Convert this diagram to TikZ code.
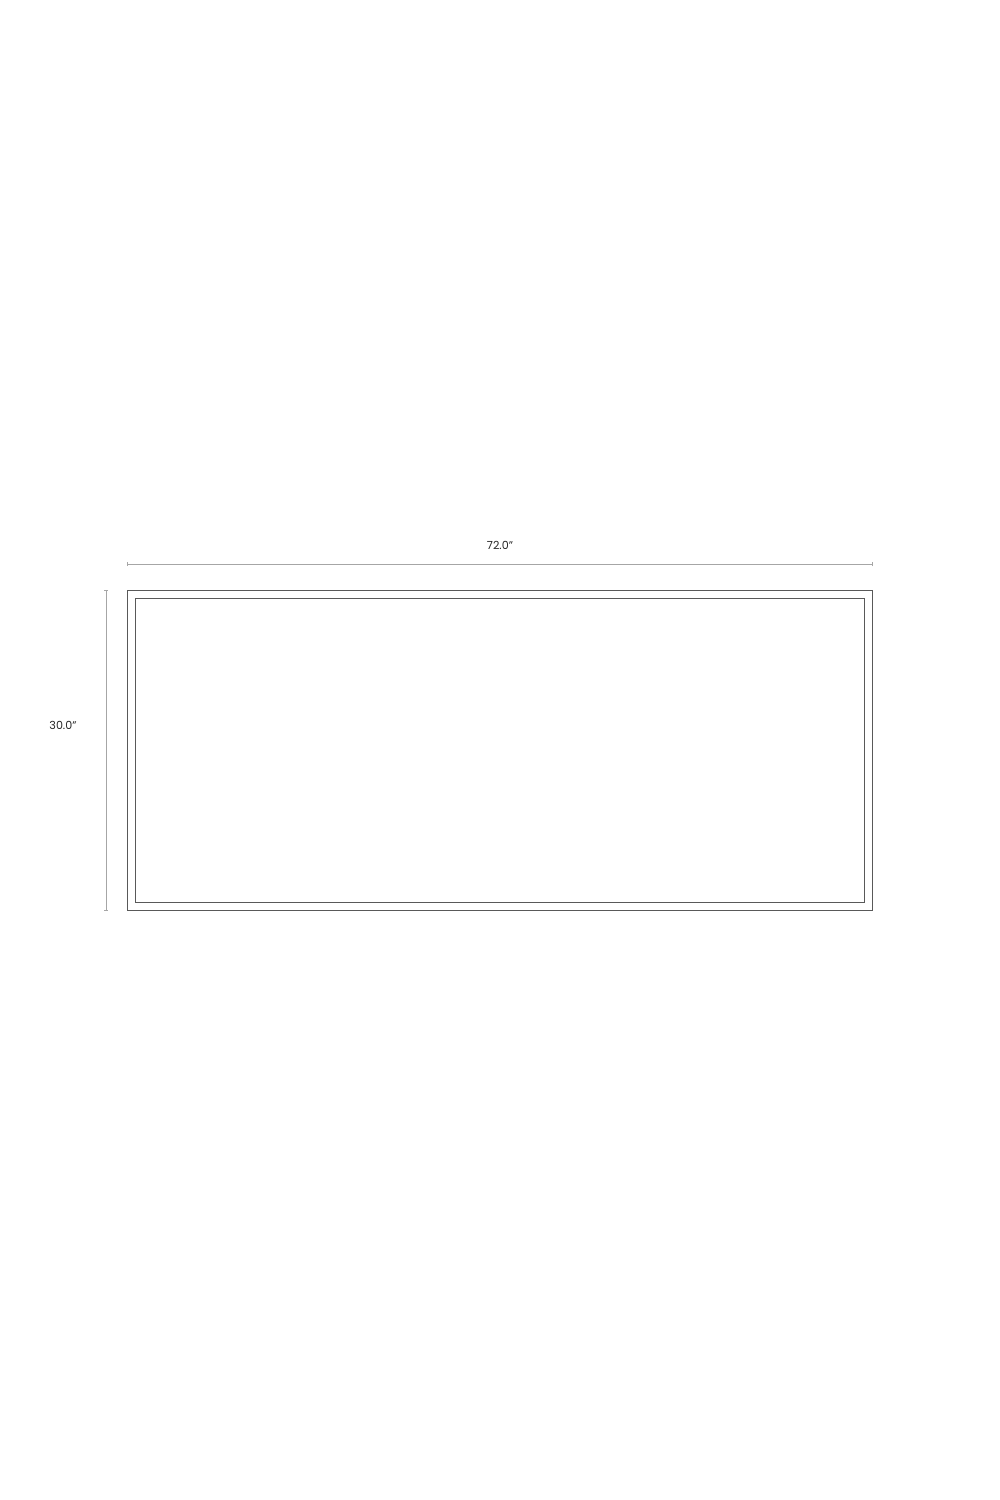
\documentclass[tikz,border=0pt]{standalone}
\usepackage{fontspec}
\setmainfont{Poppins}
\begin{document}
\begin{tikzpicture}[x=0.03cm,y=-0.03cm,
  frame/.style={draw=black!65,line width=0.8pt},
  dimline/.style={draw=black!35,line width=0.6pt},
  dimtext/.style={font=\fontsize{9.5}{11}\selectfont,text=black!85,inner sep=0pt}]
\useasboundingbox[fill=white] (0,0) rectangle (1000,1500);
\draw[frame] (127,590) rectangle (872,910);
\draw[frame] (135,598) rectangle (864,902);
\coordinate (hl) at (127,564);
\coordinate (hr) at (872,564);
\draw[dimline] (hl) -- (hr);
\draw[dimline] ([yshift=-0.06cm]hl) -- ([yshift=0.06cm]hl);
\draw[dimline] ([yshift=-0.06cm]hr) -- ([yshift=0.06cm]hr);
\coordinate (vt) at (106,590);
\coordinate (vb) at (106,910);
\draw[dimline] (vt) -- (vb);
\draw[dimline] ([xshift=-0.06cm]vt) -- ([xshift=0.06cm]vt);
\draw[dimline] ([xshift=-0.06cm]vb) -- ([xshift=0.06cm]vb);
\node[dimtext] (w) at (500,545) {72.0"};
\node[dimtext] (h) at (63,725) {30.0"};
\end{tikzpicture}
\end{document}
